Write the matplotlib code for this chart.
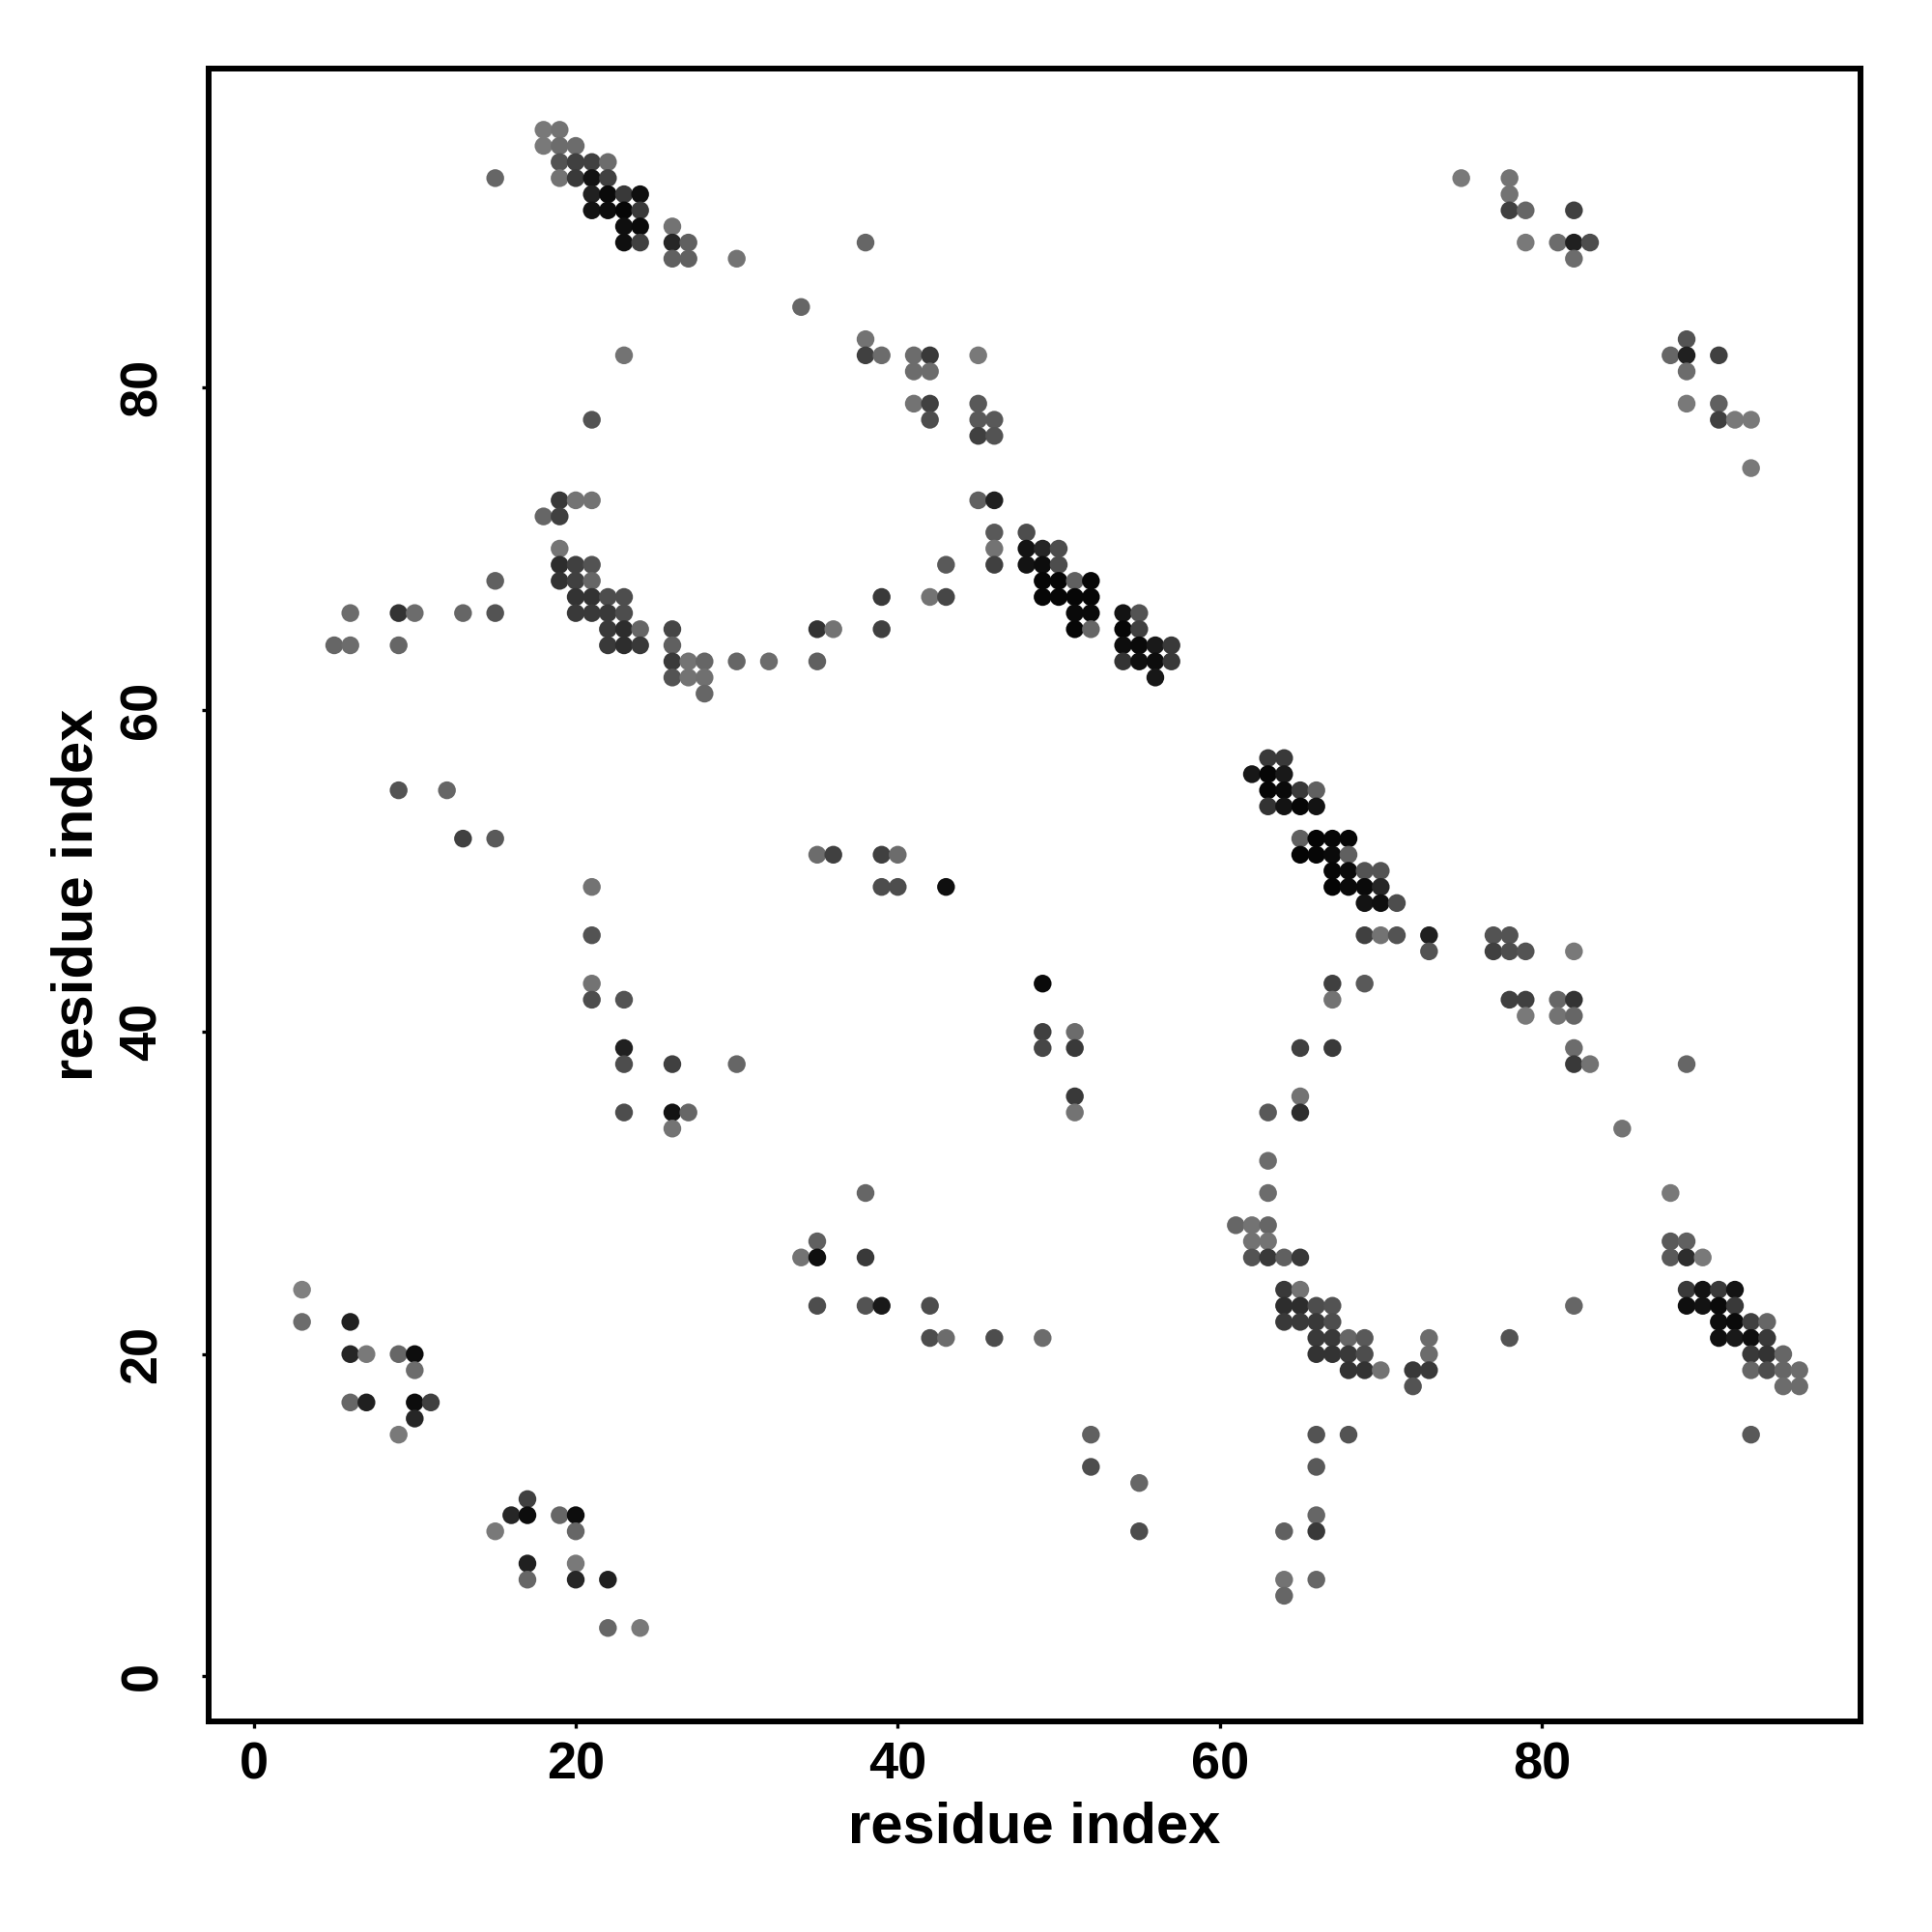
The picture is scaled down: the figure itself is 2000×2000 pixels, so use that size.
import matplotlib
matplotlib.use("Agg")
import matplotlib.pyplot as plt
import numpy as np

# contact map: residue i (x), residue j (y), contact probability-like shade (0 light .. 1 dark)
res_x = [
    18, 19,
    18, 19, 20,
    19, 20, 21, 22,
    15, 19, 20, 21, 22,
    21, 22, 23, 24,
    21, 22, 23, 24,
    23, 24, 26,
    23, 24, 26, 27, 38,
    26, 27, 30,
    34,
    38,
    23, 38, 39, 41, 42, 45,
    41, 42,
    41, 42, 45,
    21, 42, 45, 46,
    45, 46,
    19, 20, 21, 45, 46,
    18, 19,
    46, 48,
    19, 46, 48, 49, 50,
    19, 20, 21, 43, 46, 48, 49, 50,
    15, 19, 20, 21, 49, 50, 51, 52,
    20, 21, 22, 23, 39, 42, 43, 49, 50, 51, 52,
    6, 9, 10, 13, 15, 20, 21, 22, 23, 51, 52, 54, 55,
    22, 23, 24, 26, 35, 36, 39, 51, 52, 54, 55,
    5, 6, 9, 22, 23, 24, 26, 54, 55, 56, 57,
    26, 27, 28, 30, 32, 35, 54, 55, 56, 57,
    26, 27, 28, 56,
    28,
    63, 64,
    62, 63, 64,
    9, 12, 63, 64, 65, 66,
    63, 64, 65, 66,
    13, 15, 65, 66, 67, 68,
    35, 36, 39, 40, 65, 66, 67, 68,
    67, 68, 69, 70,
    21, 39, 40, 43, 67, 68, 69, 70,
    69, 70, 71,
    21, 69, 70, 71, 73, 77, 78,
    73, 77, 78, 79, 82,
    21, 49, 67, 69,
    21, 23, 67, 78, 79, 81, 82,
    79, 81, 82,
    49, 51,
    23, 49, 51, 65, 67, 82,
    23, 26, 30, 82, 83, 89,
    51, 65,
    23, 26, 27, 51, 63, 65,
    26, 85,
    63,
    38, 63, 88,
    61, 62, 63,
    35, 62, 63, 88, 89,
    34, 35, 38, 62, 63, 64, 65, 88, 89, 90,
    3, 64, 65, 89, 90, 91, 92,
    35, 38, 39, 42, 64, 65, 66, 67, 82, 89, 90, 91, 92,
    3, 6, 64, 65, 66, 67, 91, 92, 93, 94,
    42, 43, 46, 49, 66, 67, 68, 69, 73, 78, 91, 92, 93, 94,
    6, 7, 9, 10, 66, 67, 68, 69, 73, 93, 94, 95,
    10, 68, 69, 70, 72, 73, 93, 94, 95, 96,
    72, 95, 96,
    6, 7, 10, 11,
    10,
    9, 52, 66, 68, 93,
    52, 66,
    55,
    17,
    16, 17, 19, 20, 66,
    15, 20, 55, 64, 66,
    17, 20,
    17, 20, 22, 64, 66,
    64,
    22, 24,
    75, 78, 78, 78, 79, 82, 79, 81, 82, 83, 82,
    89, 88, 89, 91, 89, 89, 91, 91, 92, 93, 93,
]
res_y = [
    96, 96,
    95, 95, 95,
    94, 94, 94, 94,
    93, 93, 93, 93, 93,
    92, 92, 92, 92,
    91, 91, 91, 91,
    90, 90, 90,
    89, 89, 89, 89, 89,
    88, 88, 88,
    85,
    83,
    82, 82, 82, 82, 82, 82,
    81, 81,
    79, 79, 79,
    78, 78, 78, 78,
    77, 77,
    73, 73, 73, 73, 73,
    72, 72,
    71, 71,
    70, 70, 70, 70, 70,
    69, 69, 69, 69, 69, 69, 69, 69,
    68, 68, 68, 68, 68, 68, 68, 68,
    67, 67, 67, 67, 67, 67, 67, 67, 67, 67, 67,
    66, 66, 66, 66, 66, 66, 66, 66, 66, 66, 66, 66, 66,
    65, 65, 65, 65, 65, 65, 65, 65, 65, 65, 65,
    64, 64, 64, 64, 64, 64, 64, 64, 64, 64, 64,
    63, 63, 63, 63, 63, 63, 63, 63, 63, 63,
    62, 62, 62, 62,
    61,
    57, 57,
    56, 56, 56,
    55, 55, 55, 55, 55, 55,
    54, 54, 54, 54,
    52, 52, 52, 52, 52, 52,
    51, 51, 51, 51, 51, 51, 51, 51,
    50, 50, 50, 50,
    49, 49, 49, 49, 49, 49, 49, 49,
    48, 48, 48,
    46, 46, 46, 46, 46, 46, 46,
    45, 45, 45, 45, 45,
    43, 43, 43, 43,
    42, 42, 42, 42, 42, 42, 42,
    41, 41, 41,
    40, 40,
    39, 39, 39, 39, 39, 39,
    38, 38, 38, 38, 38, 38,
    36, 36,
    35, 35, 35, 35, 35, 35,
    34, 34,
    32,
    30, 30, 30,
    28, 28, 28,
    27, 27, 27, 27, 27,
    26, 26, 26, 26, 26, 26, 26, 26, 26, 26,
    24, 24, 24, 24, 24, 24, 24,
    23, 23, 23, 23, 23, 23, 23, 23, 23, 23, 23, 23, 23,
    22, 22, 22, 22, 22, 22, 22, 22, 22, 22,
    21, 21, 21, 21, 21, 21, 21, 21, 21, 21, 21, 21, 21, 21,
    20, 20, 20, 20, 20, 20, 20, 20, 20, 20, 20, 20,
    19, 19, 19, 19, 19, 19, 19, 19, 19, 19,
    18, 18, 18,
    17, 17, 17, 17,
    16,
    15, 15, 15, 15, 15,
    13, 13,
    12,
    11,
    10, 10, 10, 10, 10,
    9, 9, 9, 9, 9,
    7, 7,
    6, 6, 6, 6, 6,
    5,
    3, 3,
    93, 93, 92, 91, 91, 91, 89, 89, 89, 89, 88,
    83, 82, 82, 82, 81, 79, 79, 78, 78, 78, 75,
]
prob = [
    .05, .10,
    .05, .15, .15,
    .35, .50, .50, .15,
    .20, .10, .55, .85, .50,
    .75, .92, .55, .88,
    .85, .90, .95, .55,
    .88, .92, .10,
    .88, .50, .70, .25, .20,
    .25, .25, .10,
    .20,
    .10,
    .10, .50, .15, .15, .55, .05,
    .15, .15,
    .10, .50, .30,
    .35, .40, .30, .30,
    .50, .35,
    .55, .10, .10, .25, .75,
    .20, .50,
    .30, .40,
    .08, .10, .85, .70, .40,
    .65, .50, .35, .30, .50, .85, .90, .40,
    .25, .60, .50, .20, .95, .95, .25, .95,
    .60, .60, .40, .40, .55, .10, .45, .95, .95, .95, .95,
    .15, .60, .15, .20, .35, .55, .55, .55, .40, .92, .92, .85, .35,
    .55, .65, .20, .45, .60, .10, .50, .95, .20, .95, .50,
    .20, .15, .20, .55, .65, .55, .25, .90, .92, .80, .55,
    .55, .10, .20, .20, .15, .25, .60, .88, .90, .55,
    .35, .10, .12, .82,
    .20,
    .55, .55,
    .82, .95, .80,
    .35, .20, .95, .92, .55, .25,
    .60, .85, .95, .85,
    .50, .30, .25, .97, .95, .95,
    .15, .50, .50, .15, .97, .95, .92, .25,
    .95, .92, .35, .35,
    .10, .40, .40, .88, .97, .92, .92, .70,
    .85, .88, .40,
    .35, .50, .10, .35, .75, .35, .35,
    .35, .50, .40, .35, .05,
    .10, .92, .50, .30,
    .40, .35, .10, .50, .50, .20, .60,
    .05, .10, .20,
    .50, .15,
    .75, .45, .55, .50, .55, .15,
    .40, .50, .20, .55, .10, .20,
    .55, .10,
    .40, .85, .20, .10, .30, .65,
    .10, .10,
    .15,
    .20, .15, .05,
    .20, .10, .20,
    .25, .10, .10, .30, .25,
    .10, .88, .55, .35, .55, .25, .55, .30, .65, .05,
    .00, .55, .10, .55, .85, .55, .85,
    .40, .35, .80, .40, .65, .65, .40, .35, .20, .88, .85, .92, .55,
    .15, .75, .55, .55, .55, .40, .90, .92, .50, .20,
    .40, .15, .40, .15, .55, .55, .20, .30, .15, .35, .88, .80, .88, .55,
    .70, .05, .20, .90, .60, .60, .55, .40, .15, .55, .60, .20,
    .15, .60, .60, .10, .55, .55, .20, .40, .20, .15,
    .35, .15, .15,
    .20, .75, .90, .50,
    .70,
    .05, .25, .35, .35, .30,
    .40, .30,
    .20,
    .50,
    .70, .90, .20, .90, .20,
    .05, .20, .40, .25, .55,
    .75, .05,
    .20, .70, .75, .10, .20,
    .20,
    .20, .05,
    .05, .10, .10, .50, .20, .50, .05, .15, .75, .40, .15,
    .35, .20, .75, .50, .15, .05, .25, .50, .05, .05, .05,
]

x_ticks = [0, 20, 40, 60, 80]
y_ticks = [0, 20, 40, 60, 80]
axis_label = "residue index"

assert len(res_x) == len(res_y) == len(prob)

plt.rcParams['font.family'] = ['Liberation Sans', 'DejaVu Sans']
plt.rcParams['font.weight'] = 'bold'

fig = plt.figure(figsize=(10, 10), dpi=200)
ax = fig.add_axes([0.108, 0.109, 0.855, 0.8555])

p = np.asarray(prob)
grey = 0.5 * (1.0 - p)
colors = np.stack([grey, grey, grey], axis=1)
ax.scatter(res_x, res_y, s=44, c=colors, linewidths=0)

ax.set_xlim(-2.8, 99.8)
ax.set_ylim(-2.8, 99.8)
ax.set_xticks(x_ticks)
ax.set_yticks(y_ticks)
for sp in ax.spines.values():
    sp.set_linewidth(2.15)
ax.tick_params(axis='both', direction='out', length=2.4, width=1.2,
               labelsize=19.5)
ax.tick_params(axis='x', pad=5.1)
ax.tick_params(axis='y', pad=22.1)
for lab in ax.get_yticklabels():
    lab.set_rotation(90)
    lab.set_va('center')
    lab.set_ha('center')
for lab in ax.get_xticklabels() + ax.get_yticklabels():
    lab.set_fontweight('bold')

ax.set_xlabel(axis_label, fontsize=21.5, fontweight='bold')
ax.set_ylabel(axis_label, fontsize=21.5, fontweight='bold')
ax.xaxis.set_label_coords(0.5, -0.064)
ax.xaxis.label.set_va('center')
ax.yaxis.set_label_coords(-0.0795, 0.5)
ax.yaxis.label.set_va('center')

fig.savefig("out.png", dpi=200, facecolor='white')
